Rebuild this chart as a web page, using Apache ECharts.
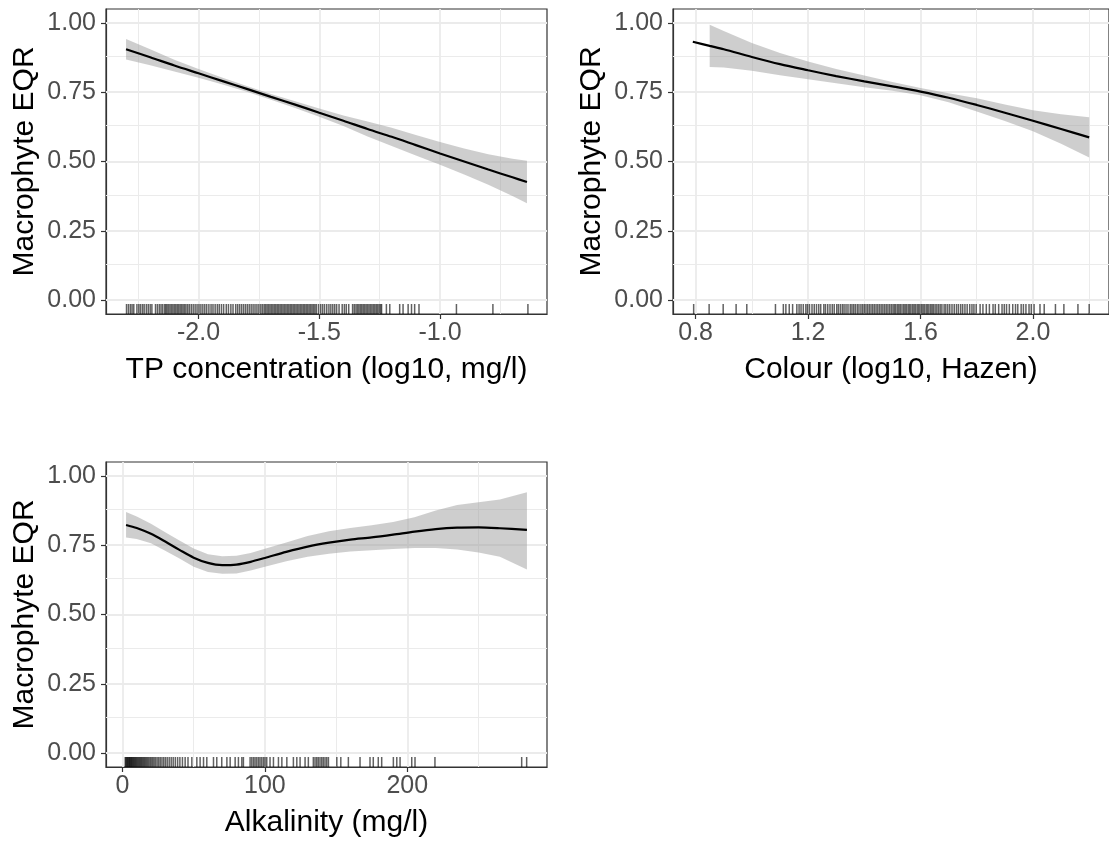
<!DOCTYPE html>
<html><head><meta charset="utf-8">
<script src="https://cdn.jsdelivr.net/npm/echarts@6/dist/echarts.min.js"></script>
<style>html,body{margin:0;padding:0;background:#fff}#c{width:1109px;height:841px}</style>
</head><body><div id="c"></div>
<script>
// ---------- shared y axis ----------
const yLim = [-0.05, 1.05];
const yMajor = [0, 0.25, 0.5, 0.75, 1.0];
const yMinor = [0.125, 0.375, 0.625, 0.875];
const yName = 'Macrophyte EQR';

// ---------- panel 1: TP ----------
const tpName = 'TP concentration (log10, mg/l)';
const tpLim = [-2.383, -0.557];
const tpMajor = [-2.0, -1.5, -1.0];
const tpMinor = [-2.25, -1.75, -1.25, -0.75];
const tpX = [-2.30, -2.20, -2.10, -2.00, -1.90, -1.80, -1.70, -1.60, -1.50, -1.40, -1.30, -1.20, -1.10, -1.00, -0.90, -0.80, -0.70, -0.64];
const tpFit = [0.905, 0.876, 0.846, 0.818, 0.790, 0.762, 0.733, 0.705, 0.676, 0.647, 0.617, 0.589, 0.559, 0.529, 0.500, 0.471, 0.443, 0.426];
const tpLower = [0.868, 0.847, 0.825, 0.802, 0.778, 0.752, 0.723, 0.693, 0.661, 0.628, 0.590, 0.556, 0.522, 0.488, 0.453, 0.416, 0.376, 0.349];
const tpUpper = [0.942, 0.905, 0.867, 0.834, 0.802, 0.772, 0.743, 0.717, 0.691, 0.666, 0.644, 0.622, 0.596, 0.570, 0.547, 0.526, 0.510, 0.503];
const tpRug = [-2.298, -2.290, -2.282, -2.275, -2.268, -2.255, -2.247, -2.240, -2.232, -2.225, -2.216, -2.208, -2.200, -2.193,
  -2.178, -2.170, -2.162, -2.155, -2.148, -2.140, -2.135, -2.130, -2.124, -2.118, -2.112, -2.106, -2.100, -2.094, -2.088, -2.082,
  -2.076, -2.070, -2.064, -2.058, -2.052, -2.045, -2.038, -2.030, -2.022, -2.014, -2.006, -1.998, -1.990, -1.982, -1.974, -1.966,
  -1.957, -1.948, -1.940, -1.931, -1.922, -1.914, -1.905, -1.896, -1.885, -1.876, -1.866, -1.857, -1.846, -1.838, -1.830, -1.822,
  -1.814, -1.806, -1.798, -1.790, -1.782, -1.774, -1.766, -1.758, -1.750, -1.742, -1.735, -1.728, -1.722, -1.716, -1.710, -1.704,
  -1.698, -1.692, -1.686, -1.680, -1.674, -1.668, -1.662, -1.656, -1.650, -1.644, -1.638, -1.632, -1.626, -1.620, -1.614, -1.608,
  -1.602, -1.596, -1.590, -1.584, -1.578, -1.572, -1.566, -1.560, -1.554, -1.548, -1.542, -1.536, -1.530, -1.524, -1.518, -1.512,
  -1.503, -1.494, -1.486, -1.478, -1.469, -1.460, -1.452, -1.444, -1.436, -1.428, -1.418, -1.405, -1.396, -1.388, -1.378, -1.362,
  -1.355, -1.348, -1.342, -1.336, -1.330, -1.324, -1.318, -1.312, -1.306, -1.300, -1.294, -1.288, -1.282, -1.276, -1.270, -1.264,
  -1.258, -1.252, -1.246, -1.242, -1.222, -1.208, -1.167, -1.153, -1.132, -1.118, -1.105, -1.087, -0.932, -0.781, -0.636];

// ---------- panel 2: Colour ----------
const colName = 'Colour (log10, Hazen)';
const colLim = [0.7195, 2.2705];
const colMajor = [0.8, 1.2, 1.6, 2.0];
const colMinor = [1.0, 1.4, 1.8, 2.2];
const colX = [0.79, 0.85, 0.90, 1.00, 1.10, 1.20, 1.30, 1.40, 1.50, 1.60, 1.70, 1.80, 1.90, 2.00, 2.10, 2.20];
const colFit = [0.932, 0.917, 0.905, 0.877, 0.851, 0.829, 0.808, 0.789, 0.771, 0.752, 0.730, 0.704, 0.676, 0.647, 0.617, 0.587];
const colRibX = [0.85, 0.90, 1.00, 1.10, 1.20, 1.30, 1.40, 1.50, 1.60, 1.70, 1.80, 1.90, 2.00, 2.10, 2.20];
const colLower = [0.841, 0.839, 0.827, 0.811, 0.797, 0.782, 0.768, 0.755, 0.739, 0.714, 0.680, 0.646, 0.609, 0.564, 0.514];
const colUpper = [0.993, 0.971, 0.927, 0.891, 0.861, 0.834, 0.810, 0.787, 0.765, 0.746, 0.728, 0.706, 0.685, 0.670, 0.660];
const colRug = [0.793, 0.848, 0.898, 0.944, 0.982, 1.084, 1.112, 1.121, 1.133, 1.145,
  1.160, 1.168, 1.175, 1.183, 1.192, 1.198, 1.205, 1.214, 1.222, 1.230, 1.238, 1.245, 1.256, 1.262, 1.270, 1.278, 1.286, 1.293,
  1.302, 1.308, 1.315, 1.322, 1.328, 1.335, 1.342, 1.350, 1.356, 1.362, 1.368, 1.375, 1.381, 1.388, 1.394, 1.400, 1.406, 1.412,
  1.418, 1.424, 1.430, 1.436, 1.442, 1.448, 1.454, 1.460, 1.466, 1.472, 1.478, 1.484, 1.490, 1.496, 1.502, 1.507, 1.512, 1.518,
  1.523, 1.528, 1.534, 1.540, 1.545, 1.550, 1.556, 1.561, 1.566, 1.572, 1.577, 1.582, 1.588, 1.593, 1.598, 1.604, 1.609, 1.614,
  1.620, 1.625, 1.630, 1.636, 1.641, 1.646, 1.652, 1.658, 1.664, 1.670, 1.676, 1.684, 1.690, 1.697, 1.704, 1.712, 1.720, 1.728,
  1.735, 1.743, 1.750, 1.758, 1.766, 1.775, 1.783, 1.790, 1.798, 1.812, 1.822, 1.834, 1.845, 1.858, 1.866, 1.878, 1.890, 1.898,
  1.906, 1.916, 1.928, 1.938, 1.946, 1.958, 1.966, 1.975, 1.986, 1.994, 2.004, 2.025, 2.040, 2.080, 2.110, 2.160, 2.200];

// ---------- panel 3: Alkalinity ----------
const alkName = 'Alkalinity (mg/l)';
const alkLim = [-11.58, 298.08];
const alkMajor = [0, 100, 200];
const alkMinor = [50, 150, 250];
const alkX = [2.5, 10, 20, 30, 40, 50, 60, 70, 80, 90, 100, 115, 130, 145, 160, 175, 190, 205, 220, 235, 250, 265, 284];
const alkFit = [0.823, 0.812, 0.791, 0.763, 0.733, 0.705, 0.686, 0.678, 0.680, 0.690, 0.704, 0.726, 0.745, 0.759, 0.770, 0.778, 0.788, 0.799, 0.808, 0.813, 0.814, 0.811, 0.805];
const alkLower = [0.778, 0.772, 0.757, 0.730, 0.702, 0.672, 0.653, 0.647, 0.648, 0.659, 0.672, 0.692, 0.708, 0.719, 0.727, 0.732, 0.736, 0.740, 0.740, 0.734, 0.724, 0.708, 0.662];
const alkUpper = [0.870, 0.853, 0.827, 0.797, 0.767, 0.738, 0.717, 0.710, 0.712, 0.722, 0.737, 0.760, 0.783, 0.800, 0.812, 0.822, 0.834, 0.851, 0.875, 0.895, 0.905, 0.915, 0.941];
const alkRug = [1.9, 2.4, 2.9, 3.3, 3.8, 4.2, 4.7, 5.1, 5.6, 6.0, 6.5, 7.0, 7.5, 8.0, 8.6, 9.1, 9.7, 10.3, 10.9, 11.5, 12.1, 12.8,
  13.4, 14.1, 14.8, 15.5, 16.2, 17.0, 17.8, 18.6, 19.5, 20.4, 21.3, 22.2, 23.2, 24.3, 25.4, 26.5, 27.7, 28.9, 30.1, 31.4, 32.8,
  34.2, 35.6, 37.1, 38.7, 40.3, 42.1, 44.0, 46.0, 48.7, 52.2, 54.5, 56.9, 59.2, 63.9, 66.2, 69.7, 73.3, 75.6, 79.1, 81.4, 83.8,
  84.9, 89.6, 90.8, 92.0, 93.1, 94.3, 95.5, 96.6, 97.8, 99.0, 100.1, 101.3, 103.6, 106.0, 109.5, 111.9, 115.4, 120.0, 122.4,
  124.7, 128.2, 130.5, 134.0, 135.2, 136.4, 137.5, 138.7, 139.9, 141.0, 142.2, 143.4, 144.6, 150.5, 153.3, 158.6, 166.8, 173.8,
  176.1, 179.6, 182.0, 190.2, 192.6, 194.9, 203.1, 205.4, 219.4, 280.3, 283.8];

// ---------- build ----------
const FONT = '"Liberation Sans", Arial, sans-serif';
const panels = [
  {grid: {left: 106, top: 9, width: 441, height: 305}, name: tpName, lim: tpLim, major: tpMajor, minor: tpMinor, dec: 1,
   x: tpX, fit: tpFit, rx: tpX, lo: tpLower, hi: tpUpper, rug: tpRug},
  {grid: {left: 673, top: 9, width: 441, height: 305}, name: colName, lim: colLim, major: colMajor, minor: colMinor, dec: 1,
   x: colX, fit: colFit, rx: colRibX, lo: colLower, hi: colUpper, rug: colRug},
  {grid: {left: 106, top: 462, width: 441, height: 305}, name: alkName, lim: alkLim, major: alkMajor, minor: alkMinor, dec: 0,
   x: alkX, fit: alkFit, rx: alkX, lo: alkLower, hi: alkUpper, rug: alkRug}
];

const grids = [], xAxes = [], yAxes = [], series = [];
const gridCol = '#EBEBEB';
panels.forEach((p, i) => {
  grids.push(Object.assign({show: true, borderColor: '#333333', borderWidth: 1.2, backgroundColor: '#fff', containLabel: false}, p.grid));
  const common = {
    gridIndex: i, type: 'value',
    axisLine: {show: true, onZero: false, lineStyle: {color: '#333333', width: 1.2}},
    axisTick: {show: true, length: 5, lineStyle: {color: '#333333', width: 1.2}},
    splitLine: {show: false}, minorTick: {show: false}, minorSplitLine: {show: false},
    nameTextStyle: {color: '#000', fontSize: 30, fontFamily: FONT},
    nameLocation: 'middle'
  };
  xAxes.push(Object.assign({}, common, {
    min: p.lim[0], max: p.lim[1], name: p.name, nameGap: 41,
    axisTick: Object.assign({}, common.axisTick, {customValues: p.major}),
    axisLabel: {customValues: p.major, color: '#4D4D4D', fontSize: 25, fontFamily: FONT, margin: 7,
      formatter: v => Number(v).toFixed(p.dec)}
  }));
  yAxes.push(Object.assign({}, common, {
    min: yLim[0], max: yLim[1], name: yName, nameGap: 66,
    axisTick: Object.assign({}, common.axisTick, {customValues: yMajor}),
    axisLabel: {customValues: yMajor, color: '#4D4D4D', fontSize: 25, fontFamily: FONT, margin: 10,
      formatter: v => Number(v).toFixed(2)}
  }));
  const ml = (vals, key, w) => vals.map(v => ({[key]: v, lineStyle: {color: gridCol, width: w, type: 'solid'}}));
  // grid lines
  series.push({
    type: 'line', xAxisIndex: i, yAxisIndex: i, data: [], silent: true, z: 1,
    markLine: {silent: true, symbol: 'none', animation: false, z: 1, label: {show: false},
      data: [].concat(ml(p.minor, 'xAxis', 1.0), ml(yMinor, 'yAxis', 1.0), ml(p.major, 'xAxis', 1.8), ml(yMajor, 'yAxis', 1.8))}
  });
  // ribbon
  series.push({
    type: 'custom', xAxisIndex: i, yAxisIndex: i, z: 3, silent: true, animation: false,
    data: [[p.rx[0], p.lo[0]]],
    renderItem: (params, api) => {
      const pts = [];
      for (let k = 0; k < p.rx.length; k++) pts.push(api.coord([p.rx[k], p.hi[k]]));
      for (let k = p.rx.length - 1; k >= 0; k--) pts.push(api.coord([p.rx[k], p.lo[k]]));
      return {type: 'polygon', shape: {points: pts}, style: {fill: 'rgba(153,153,153,0.48)', stroke: null}};
    }
  });
  // fitted line
  series.push({
    type: 'line', xAxisIndex: i, yAxisIndex: i, z: 5, silent: true, animation: false,
    showSymbol: false, symbol: 'none', smooth: 0.3,
    lineStyle: {color: '#000', width: 2.2},
    data: p.x.map((x, k) => [x, p.fit[k]])
  });
  // rug
  series.push({
    type: 'custom', xAxisIndex: i, yAxisIndex: i, z: 4, silent: true, animation: false,
    data: p.rug.map(x => [x, 0]),
    renderItem: (params, api) => {
      const pt = api.coord([api.value(0), 0]);
      const cs = params.coordSys;
      const yb = cs.y + cs.height;
      return {type: 'line', shape: {x1: pt[0], y1: yb, x2: pt[0], y2: yb - 10},
        style: {stroke: 'rgba(0,0,0,0.62)', lineWidth: 1.5}};
    }
  });
});

const chart = echarts.init(document.getElementById('c'), null, {renderer: 'canvas'});
chart.setOption({animation: false, backgroundColor: '#fff', grid: grids, xAxis: xAxes, yAxis: yAxes, series: series});
</script>
</body></html>
